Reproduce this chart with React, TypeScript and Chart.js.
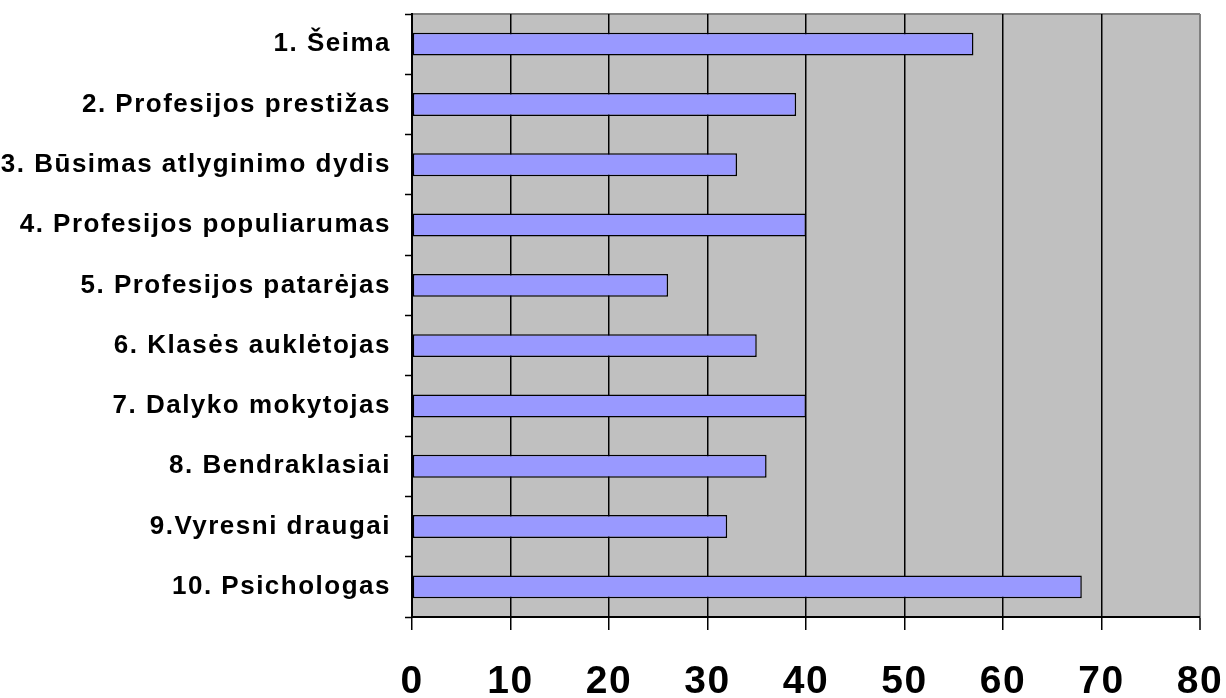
import React, { useEffect, useRef } from "react";
import { Chart, registerables } from "chart.js";

Chart.register(...registerables);

const categories: string[] = [
  "1. Šeima",
  "2. Profesijos prestižas",
  "3. Būsimas atlyginimo dydis",
  "4. Profesijos populiarumas",
  "5. Profesijos patarėjas",
  "6. Klasės auklėtojas",
  "7. Dalyko mokytojas",
  "8. Bendraklasiai",
  "9.Vyresni draugai",
  "10. Psichologas",
];

const values: number[] = [57, 39, 33, 40, 26, 35, 40, 36, 32, 68];

const xTicks: number[] = [0, 10, 20, 30, 40, 50, 60, 70, 80];

const FONT = "'Liberation Sans', Arial, sans-serif";

const bgPlugin = {
  id: "plotBg",
  beforeDraw(chart: any) {
    const { ctx, chartArea } = chart;
    const { left, top, right, bottom } = chartArea;
    ctx.save();
    ctx.fillStyle = "#C0C0C0";
    ctx.fillRect(left, top, right - left, bottom - top);
    ctx.strokeStyle = "#808080";
    ctx.lineWidth = 2;
    ctx.beginPath();
    ctx.moveTo(left, top);
    ctx.lineTo(right, top);
    ctx.stroke();
    ctx.restore();
    ctx.letterSpacing = "1.5px";
  },
};

export default function App() {
  const ref = useRef<HTMLCanvasElement | null>(null);

  useEffect(() => {
    if (!ref.current) return;
    const chart = new Chart(ref.current, {
      type: "bar",
      data: {
        labels: categories,
        datasets: [
          {
            data: values,
            backgroundColor: "#9999FF",
            borderColor: "#000000",
            borderWidth: 1.5,
            borderSkipped: false,
            categoryPercentage: 1,
            barPercentage: 0.38,
          },
        ],
      },
      options: {
        indexAxis: "y",
        responsive: false,
        animation: false,
        layout: { padding: { top: 14, right: 26, left: 0, bottom: 0 } },
        plugins: {
          legend: { display: false },
          tooltip: { enabled: false },
        },
        scales: {
          x: {
            type: "linear",
            min: 0,
            max: 80,
            afterBuildTicks(scale: any) {
              scale.ticks = xTicks.map((v) => ({ value: v }));
            },
            afterFit(scale: any) {
              scale.height = 81;
              scale.paddingLeft = 0;
              scale.paddingRight = 0;
              scale.paddingTop = 0;
              scale.paddingBottom = 0;
            },
            grid: {
              display: true,
              drawOnChartArea: true,
              color: (c: any) => (c.index === 8 ? "#808080" : "#000000"),
              lineWidth: (c: any) => (c.index === 8 ? 2 : 1.5),
              tickColor: "#000000",
              tickLength: 13,
              tickWidth: 1.5,
            },
            border: { display: true, color: "#000000", width: 2 },
            ticks: {
              color: "#000000",
              padding: 29,
              font: { family: FONT, size: 39, weight: "bold" },
              maxRotation: 0,
              autoSkip: false,
            },
          },
          y: {
            afterFit(scale: any) {
              scale.width = 412;
              scale.paddingLeft = 0;
              scale.paddingRight = 0;
              scale.paddingTop = 0;
              scale.paddingBottom = 0;
            },
            grid: {
              display: true,
              drawOnChartArea: false,
              offset: true,
              tickColor: "#000000",
              tickLength: 7,
              tickWidth: 1.5,
            },
            border: { display: true, color: "#000000", width: 2 },
            ticks: {
              color: "#000000",
              padding: 14,
              font: { family: FONT, size: 26, weight: "bold" },
              autoSkip: false,
            },
          },
        },
      },
      plugins: [bgPlugin],
    });
    return () => chart.destroy();
  }, []);

  return (
    <div style={{ position: "fixed", left: 0, top: 0, width: 1226, height: 698, background: "#fff" }}>
      <canvas ref={ref} width={1226} height={698} style={{ display: "block" }} />
    </div>
  );
}
